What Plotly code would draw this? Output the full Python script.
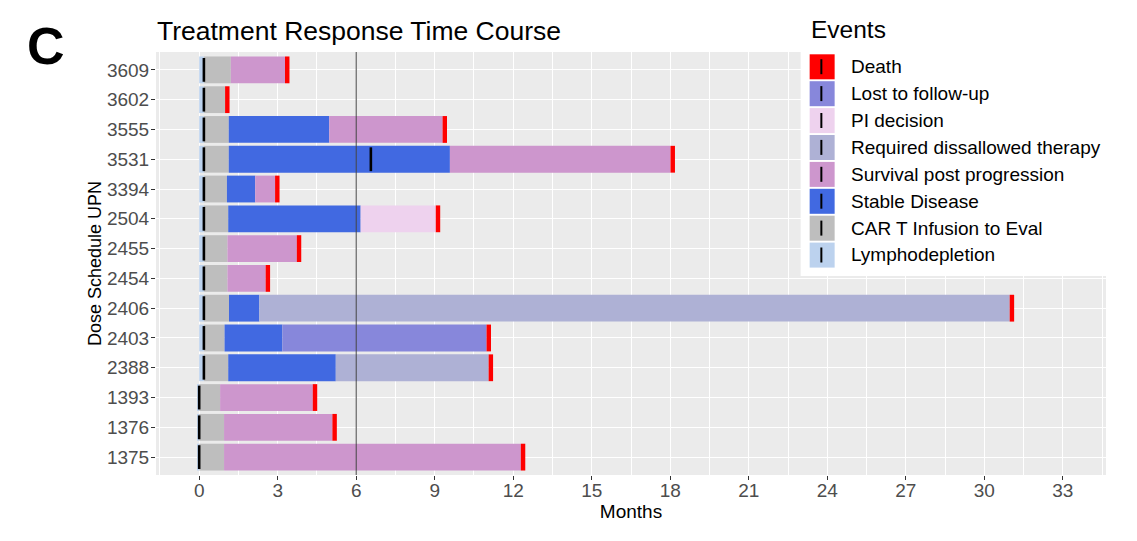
import plotly.graph_objects as go

# ---------------- data ----------------
upn = ["3609", "3602", "3555", "3531", "3394", "2504", "2455",
       "2454", "2406", "2403", "2388", "1393", "1376", "1375"]

lympho_start = [0, 0, 0, 0, 0, 0, 0, 0, 0, 0, 0, -0.08, -0.08, -0.08]
infusion = [0.18, 0.18, 0.18, 0.18, 0.18, 0.18, 0.18, 0.18, 0.18, 0.18, 0.18, 0, 0, 0]
eval_end = [1.21, 0.99, 1.13, 1.13, 1.06, 1.11, 1.08, 1.08, 1.14, 0.97, 1.11, 0.80, 0.95, 0.95]
stable_end = [None, None, 4.97, 9.58, 2.14, 6.17, None, None, 2.30, 3.18, 5.22, None, None, None]
survival_end = [3.28, None, 9.30, 18.01, 2.90, None, 3.73, 2.54, None, None, None, 4.34, 5.09, 12.29]
pi_end = [None, None, None, None, None, 9.04, None, None, None, None, None, None, None, None]
dissallowed_end = [None, None, None, None, None, None, None, None, 30.97, None, 11.06, None, None, None]
lost_end = [None, None, None, None, None, None, None, None, None, 10.98, None, None, None, None]
death_flag = [1] * 14

extra_event_upn = ["3531"]
extra_event_time = [6.56]

x_ticks = [0, 3, 6, 9, 12, 15, 18, 21, 24, 27, 30, 33]
ref_line_month = 6

events = ["Death", "Lost to follow-up", "PI decision", "Required dissallowed therapy",
          "Survival post progression", "Stable Disease", "CAR T Infusion to Eval",
          "Lymphodepletion"]
colors = {
    "Death": "#FF0000",
    "Lost to follow-up": "#8787DB",
    "PI decision": "#EED2EE",
    "Required dissallowed therapy": "#AEB1D5",
    "Survival post progression": "#CD96CD",
    "Stable Disease": "#4169E1",
    "CAR T Infusion to Eval": "#BEBEBE",
    "Lymphodepletion": "#BCD2EE",
}
DEATH_W = 0.17

# ---------------- build segments ----------------
segs = {e: ([None] * len(upn), [None] * len(upn)) for e in events}


def put(ev, i, a, b):
    segs[ev][0][i] = a
    segs[ev][1][i] = b - a


for i in range(len(upn)):
    put("Lymphodepletion", i, lympho_start[i], infusion[i])
    put("CAR T Infusion to Eval", i, infusion[i], eval_end[i])
    last = eval_end[i]
    if stable_end[i] is not None:
        put("Stable Disease", i, last, stable_end[i])
        last = stable_end[i]
    for ev, arr in [("Survival post progression", survival_end), ("PI decision", pi_end),
                    ("Required dissallowed therapy", dissallowed_end),
                    ("Lost to follow-up", lost_end)]:
        if arr[i] is not None:
            put(ev, i, last, arr[i])
            last = arr[i]
    if death_flag[i]:
        put("Death", i, last, last + DEATH_W)

fig = go.Figure()
for ev in reversed(events):
    base, length = segs[ev]
    fig.add_trace(go.Bar(
        y=upn, x=length, base=base, orientation="h", name=ev,
        marker=dict(color=colors[ev], line=dict(width=0)),
        width=0.9, showlegend=False, hoverinfo="skip"))

fig.add_trace(go.Scatter(
    y=upn + extra_event_upn, x=infusion + extra_event_time, mode="markers",
    marker=dict(symbol="line-ns", size=17, line=dict(width=2.6, color="black")),
    showlegend=False, hoverinfo="skip"))

# ---------------- layout helpers ----------------
PL, PR, PT, PB = 156, 1106.5, 52, 475


def fx(px):
    return (px - PL) / (PR - PL)


def fy(py):
    return (PB - py) / (PB - PT)


FONT = "Arial, Liberation Sans, sans-serif"
shapes = [dict(type="line", xref="x", yref="paper", x0=ref_line_month, x1=ref_line_month,
               y0=0, y1=1, line=dict(color="#444444", width=1), layer="above")]
annotations = []

# legend box
shapes.append(dict(type="rect", xref="paper", yref="paper", x0=fx(801), x1=fx(1112),
                   y0=fy(276), y1=fy(PT), fillcolor="white", line=dict(width=0), layer="above"))
annotations.append(dict(text="Events", xref="paper", yref="paper", x=fx(809), y=fy(30),
                        xanchor="left", yanchor="middle", showarrow=False,
                        font=dict(family=FONT, size=24.5, color="black")))
pitch = 26.9
for k, ev in enumerate(events):
    top = 54.3 + k * pitch
    cy = top + 12.4
    shapes.append(dict(type="rect", xref="paper", yref="paper", x0=fx(810), x1=fx(835),
                       y0=fy(top + 25), y1=fy(top), fillcolor=colors[ev],
                       line=dict(width=0), layer="above"))
    shapes.append(dict(type="line", xref="paper", yref="paper", x0=fx(821.7), x1=fx(821.7),
                       y0=fy(cy + 7.5), y1=fy(cy - 7.5),
                       line=dict(color="black", width=2), layer="above"))
    annotations.append(dict(text=ev, xref="paper", yref="paper", x=fx(849), y=fy(cy),
                            xanchor="left", yanchor="middle", showarrow=False,
                            font=dict(family=FONT, size=19, color="black")))

annotations.append(dict(text="<b>C</b>", xref="paper", yref="paper", x=fx(46), y=fy(46),
                        xanchor="center", yanchor="middle", showarrow=False,
                        font=dict(family=FONT, size=52, color="black")))

fig.update_layout(
    width=1137, height=541,
    margin=dict(l=PL, r=1137 - PR, t=PT, b=541 - PB),
    paper_bgcolor="white", plot_bgcolor="#EBEBEB",
    barmode="overlay",
    title=dict(text="Treatment Response Time Course", xref="paper", x=fx(157), xanchor="left",
               yref="container", y=1 - 31 / 541, yanchor="middle",
               font=dict(family=FONT, size=26.5, color="black")),
    font=dict(family=FONT),
    shapes=shapes, annotations=annotations,
    xaxis=dict(range=[-1.65, 34.65], tickvals=x_ticks, ticktext=[str(t) for t in x_ticks],
               showgrid=True, gridcolor="white", gridwidth=1.1, zeroline=False,
               ticks="outside", ticklen=4, tickcolor="#333333", tickwidth=1,
               ticklabelstandoff=-6,
               tickfont=dict(family=FONT, size=19, color="#4D4D4D"),
               minor=dict(dtick=1.5, tick0=0, showgrid=True, gridcolor="white", gridwidth=0.6),
               title=dict(text="Months", standoff=0,
                          font=dict(family=FONT, size=19, color="black")),
               showline=False),
    yaxis=dict(type="category", categoryorder="array", categoryarray=list(reversed(upn)),
               range=[-0.6, 13.6], showgrid=True, gridcolor="white", gridwidth=1.1,
               ticks="outside", ticklen=4, tickcolor="#333333", tickwidth=1,
               ticklabelstandoff=-2,
               tickfont=dict(family=FONT, size=19, color="#4D4D4D"),
               title=dict(text="Dose Schedule UPN", standoff=0,
                          font=dict(family=FONT, size=18, color="black")),
               showline=False, zeroline=False),
)

fig.write_html("out.html")
